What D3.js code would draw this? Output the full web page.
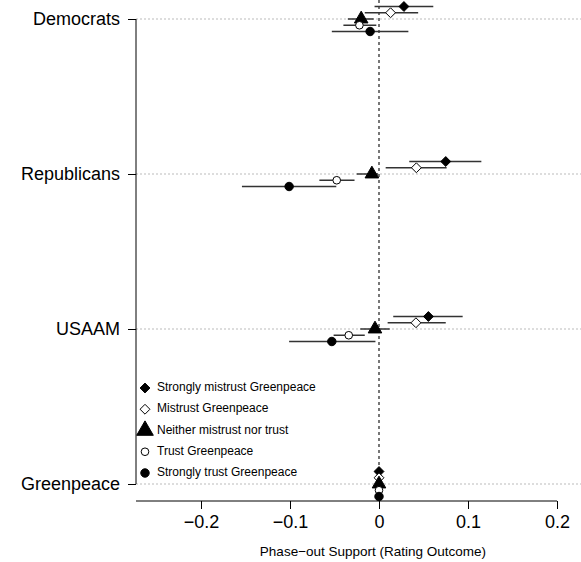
<!DOCTYPE html>
<html>
<head>
<meta charset="utf-8">
<script src="https://cdn.jsdelivr.net/npm/d3@7"></script>
<style>
body { margin: 0; background: #fff; }
text { font-family: "Liberation Sans", Arial, Helvetica, sans-serif; }
</style>
</head>
<body>
<svg id="container" width="581" height="562"></svg>
<script>
let width = 581,
    height = 562;

// groups (top to bottom) and the five trust levels
let groups = ["Democrats", "Republicans", "USAAM", "Greenpeace"]
let levels = ["Strongly mistrust Greenpeace", "Mistrust Greenpeace", "Neither mistrust nor trust", "Trust Greenpeace", "Strongly trust Greenpeace"]

// estimates per level, one value per group
let est = [
    [0.028, 0.075, 0.0555, 0],
    [0.013, 0.042, 0.0415, 0],
    [-0.020, -0.008, -0.0045, 0],
    [-0.022, -0.0475, -0.034, 0],
    [-0.010, -0.101, -0.053, 0]
]
let lower = [
    [-0.005, 0.034, 0.016, 0],
    [-0.016, 0.0075, 0.0097, 0],
    [-0.035, -0.025, -0.021, 0],
    [-0.040, -0.067, -0.051, 0],
    [-0.053, -0.154, -0.101, 0]
]
let upper = [
    [0.061, 0.115, 0.094, 0],
    [0.044, 0.076, 0.075, 0],
    [-0.006, -0.001, 0.012, 0],
    [-0.003, -0.0275, -0.016, 0],
    [0.033, -0.048, -0.004, 0]
]
let xTicks = [-0.2, -0.1, 0, 0.1, 0.2]

let svg = d3.select("#container")

let xScale = d3.scaleLinear()
    .domain([-0.1, 0.1])
    .range([290, 468])

let yScale = d3.scalePoint()
    .domain(groups)
    .range([19, 484])

let offset = d3.scalePoint()
    .domain(levels)
    .range([-12.5, 12.5])

// shapes for each level
let symbols = [
    {type: d3.symbolDiamond2, fill: "#000", size: 62},
    {type: d3.symbolDiamond2, fill: "#fff", size: 62},
    {type: d3.symbolTriangle, fill: "#000", size: 80},
    {type: d3.symbolCircle, fill: "#fff", size: 46},
    {type: d3.symbolCircle, fill: "#000", size: 56}
]

// grid lines at each group
svg.append("g")
    .selectAll("line")
    .data(groups)
    .enter()
    .append("line")
    .attr("x1", 136)
    .attr("x2", width)
    .attr("y1", d => yScale(d))
    .attr("y2", d => yScale(d))
    .attr("stroke", "#aaa")
    .attr("stroke-width", 0.8)
    .attr("stroke-dasharray", "2,2")

// zero line
svg.append("line")
    .attr("x1", xScale(0))
    .attr("x2", xScale(0))
    .attr("y1", 0)
    .attr("y2", 501)
    .attr("stroke", "#555")
    .attr("stroke-width", 1.6)
    .attr("stroke-dasharray", "3,3")

// flatten to rows
let rows = []
levels.forEach((lv, i) => {
    groups.forEach((g, j) => {
        rows.push({level: lv, li: i, group: g, est: est[i][j], lo: lower[i][j], hi: upper[i][j]})
    })
})

svg.append("g")
    .selectAll("line")
    .data(rows)
    .enter()
    .append("line")
    .attr("x1", d => xScale(d.lo))
    .attr("x2", d => xScale(d.hi))
    .attr("y1", d => yScale(d.group) + offset(d.level))
    .attr("y2", d => yScale(d.group) + offset(d.level))
    .attr("stroke", "#333")
    .attr("stroke-width", 1.5)

svg.append("g")
    .selectAll("path")
    .data(rows)
    .enter()
    .append("path")
    .attr("transform", d => "translate(" + xScale(d.est) + "," + (yScale(d.group) + offset(d.level)) + ")")
    .attr("d", d => d3.symbol().type(symbols[d.li].type).size(symbols[d.li].size)())
    .attr("fill", d => symbols[d.li].fill)
    .attr("stroke", "#000")
    .attr("stroke-width", 1)

// y axis
let yAxis = svg.append("g")
    .attr("transform", "translate(136,0)")
    .call(d3.axisLeft(yScale).tickSize(8).tickPadding(8))
yAxis.select(".domain").attr("d", "M0," + yScale(groups[0]) + "V" + yScale(groups[3]))
yAxis.selectAll("text")
    .attr("font-size", "18px")
    .attr("fill", "#000")
    .attr("font-family", "Liberation Sans, Arial, sans-serif")

// x axis
let xAxis = svg.append("g")
    .attr("transform", "translate(0,501)")
    .call(d3.axisBottom(xScale)
        .tickValues(xTicks)
        .tickSize(8)
        .tickPadding(6)
        .tickFormat(d => d == 0 ? "0" : d3.format(".1f")(d).replace("-", "\u2212")))
xAxis.select(".domain").attr("d", "M136,0H" + xScale(0.2))
xAxis.selectAll("text")
    .attr("font-size", "18px")
    .attr("fill", "#000")
    .attr("font-family", "Liberation Sans, Arial, sans-serif")
xAxis.selectAll("line, path").attr("stroke", "#000")

svg.append("text")
    .attr("x", 373)
    .attr("y", 552)
    .attr("text-anchor", "middle")
    .attr("dominant-baseline", "middle")
    .attr("font-size", "13.5px")
    .text("Phase\u2212out Support (Rating Outcome)")

// legend
let legendY = d3.scalePoint()
    .domain(levels)
    .range([388, 473])

let legend = svg.append("g")
    .selectAll("g")
    .data(levels)
    .enter()
    .append("g")
    .attr("transform", d => "translate(145," + legendY(d) + ")")

legend.append("path")
    .attr("d", (d, i) => d3.symbol().type(symbols[i].type).size(symbols[i].size * (i == 2 ? 1.5 : 1))())
    .attr("fill", (d, i) => symbols[i].fill)
    .attr("stroke", "#000")
    .attr("stroke-width", 1)

legend.append("text")
    .attr("x", 12)
    .attr("dominant-baseline", "middle")
    .attr("font-size", "12px")
    .text(d => d)
</script>
</body>
</html>
